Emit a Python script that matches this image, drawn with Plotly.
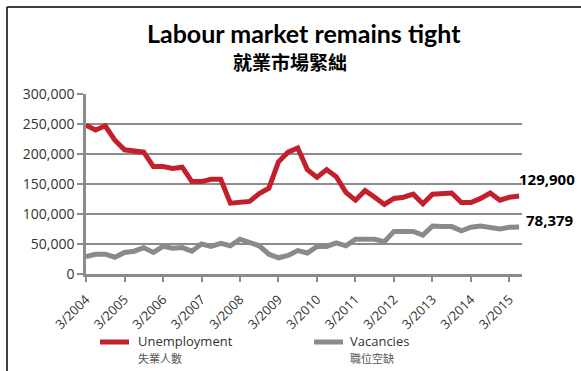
import plotly.graph_objects as go

# ---- data (quarterly, 3/2004 .. 6/2015) ----
quarters = [f"{m}/{y}" for y in range(2004, 2016) for m in (3, 6, 9, 12)][:46]
unemployment = [248000, 240000, 247000, 223000, 207000, 204000, 203000, 179000,
                179000, 176000, 178000, 154000, 154000, 158000, 158000, 118000,
                119000, 121000, 134000, 143000, 187000, 203000, 210000, 174000,
                161000, 174000, 162000, 136000, 123000, 139000, 128000, 116000,
                126000, 128000, 133000, 117000, 133000, 135000, 135000, 119000,
                119000, 126000, 135000, 123000, 128000, 129900]
vacancies = [29000, 33000, 33000, 28000, 36000, 38000, 44000, 36000,
             46000, 43000, 44000, 38000, 50000, 46000, 51000, 47000,
             58000, 53000, 47000, 33000, 27000, 31000, 39000, 35000,
             46000, 46000, 52000, 47000, 58000, 58000, 58000, 54000,
             71000, 71000, 71000, 65000, 80000, 79000, 79000, 72000,
             78000, 80000, 77000, 75000, 78000, 78379]
tick_labels = [f"3/{y}" for y in range(2004, 2016)]
tick_positions = [quarters.index(t) for t in tick_labels]
series_names = ["Unemployment", "Vacancies"]
series_names_zh = ["失業人數", "職位空缺"]
end_labels = ["129,900", "78,379"]

RED = "#c4202c"
GREY = "#8a8a8a"
GRID = "#8c8c8c"
TXT = "#333333"

W, H = 581, 371
L, R, T, B = 86, 59, 94, 97
pw, ph = W - L - R, H - T - B


def px(x):
    return (x - L) / pw


def py(y):
    return (H - B - y) / ph


idx = list(range(len(quarters)))
fig = go.Figure()
fig.add_trace(go.Scatter(x=idx, y=unemployment, mode="lines", name=series_names[0],
                         line=dict(color=RED, width=5), showlegend=False))
fig.add_trace(go.Scatter(x=idx, y=vacancies, mode="lines", name=series_names[1],
                         line=dict(color=GREY, width=5), showlegend=False))

fig.update_layout(
    width=W, height=H,
    margin=dict(l=L, r=R, t=T, b=B),
    paper_bgcolor="white", plot_bgcolor="white",
    font=dict(family="Open Sans", color=TXT),
)
fig.update_xaxes(
    range=[0, 45.3], tickvals=tick_positions, ticktext=tick_labels,
    tickangle=-45, showgrid=False, zeroline=False,
    showline=True, linecolor=GRID, linewidth=2.5,
    ticks="outside", ticklen=5, tickwidth=2, tickcolor=GRID,
    ticklabelstandoff=5,
    tickfont=dict(family="Open Sans", size=13, color=TXT),
)
fig.update_yaxes(
    range=[0, 300000], dtick=50000, tickformat=",",
    showgrid=True, gridcolor=GRID, gridwidth=2, zeroline=False,
    showline=True, linecolor=GRID, linewidth=2.5,
    ticks="outside", ticklen=6, tickwidth=2, tickcolor=GRID,
    tickfont=dict(family="Open Sans", size=14, color=TXT),
)

shapes = [
    dict(type="line", xref="paper", yref="paper", x0=px(7), x1=px(600), y0=py(7), y1=py(7),
         line=dict(color="black", width=1.5)),
    dict(type="line", xref="paper", yref="paper", x0=px(7), x1=px(7), y0=py(7), y1=py(400),
         line=dict(color="black", width=1.5)),
    dict(type="line", xref="paper", yref="paper", x0=px(100), x1=px(129), y0=py(342), y1=py(342),
         line=dict(color=RED, width=5)),
    dict(type="line", xref="paper", yref="paper", x0=px(314), x1=px(343), y0=py(342), y1=py(342),
         line=dict(color=GREY, width=5)),
]
fig.update_layout(shapes=shapes)

ann = [
    dict(text="<b>Labour market remains tight</b>", x=px(304), y=py(33), xref="paper", yref="paper",
         showarrow=False, xanchor="center", yanchor="middle",
         font=dict(family="Lato", size=25, color="black")),
    dict(text="<b>就業市場緊絀</b>", x=px(290), y=py(61), xref="paper", yref="paper",
         showarrow=False, xanchor="center", yanchor="middle",
         font=dict(family="Noto Sans CJK TC", size=19, color="black")),
    dict(text=series_names[0], x=px(136), y=py(341), xref="paper", yref="paper",
         showarrow=False, xanchor="left", yanchor="middle",
         font=dict(family="Open Sans", size=13, color=TXT)),
    dict(text=series_names_zh[0], x=px(136), y=py(358), xref="paper", yref="paper",
         showarrow=False, xanchor="left", yanchor="middle",
         font=dict(family="Noto Sans CJK TC", size=11, color="#555555")),
    dict(text=series_names[1], x=px(348), y=py(341), xref="paper", yref="paper",
         showarrow=False, xanchor="left", yanchor="middle",
         font=dict(family="Open Sans", size=13, color=TXT)),
    dict(text=series_names_zh[1], x=px(348), y=py(358), xref="paper", yref="paper",
         showarrow=False, xanchor="left", yanchor="middle",
         font=dict(family="Noto Sans CJK TC", size=11, color="#555555")),
    dict(text=f"<b>{end_labels[0]}</b>", x=idx[-1], y=unemployment[-1], xref="x", yref="y",
         showarrow=False, xanchor="left", yanchor="middle", xshift=-2, yshift=17,
         font=dict(family="Open Sans", size=15, color="black")),
    dict(text=f"<b>{end_labels[1]}</b>", x=idx[-1], y=vacancies[-1], xref="x", yref="y",
         showarrow=False, xanchor="left", yanchor="middle", xshift=5, yshift=7,
         font=dict(family="Open Sans", size=15, color="black")),
]
fig.update_layout(annotations=ann)

fig.write_html("out.html")
